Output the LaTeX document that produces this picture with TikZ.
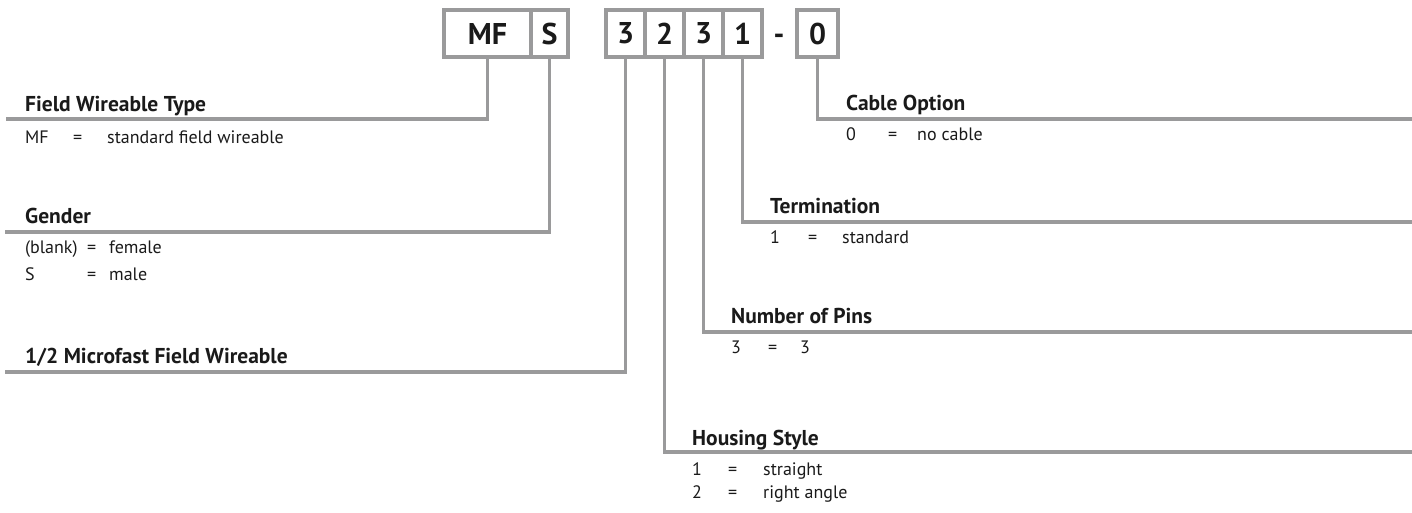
\documentclass[tikz,border=0pt]{standalone}
\usepackage{fontspec}
\setmainfont{PT Sans}
\usepackage{xcolor}
\usetikzlibrary{positioning}
\definecolor{leadgray}{HTML}{9A9A9B}
\definecolor{inkblack}{HTML}{1A1A1A}

\begin{document}
\begin{tikzpicture}[x=1pt,y=-1pt,line join=miter,
  codebox/.style={draw=leadgray,line width=3.4pt,minimum height=47pt,inner sep=0pt,
    text=inkblack,font=\fontsize{30}{32}\selectfont\bfseries},
  leader/.style={draw=leadgray,line width=3.3pt},
  head/.style={anchor=base west,inner sep=0pt,text=inkblack,font=\fontsize{21.5}{24}\selectfont\bfseries},
  opt/.style={anchor=base west,inner sep=0pt,text=inkblack,font=\fontsize{18}{20}\selectfont}]
\useasboundingbox (0,0) rectangle (1412,512);
% part number boxes
\node[codebox,minimum width=87pt] (mf) at (487.5,33.5) {MF};
\node[codebox,minimum width=37pt] (sx) at (549.5,33.5) {S};
\foreach \i/\d in {1/3,2/2,3/3,4/1}
  \node[codebox,minimum width=39pt] (d\i) at ({586.5+39*\i},33.5) {\d};
\node[inner sep=0pt,text=inkblack,font=\fontsize{30}{32}\selectfont\bfseries] (dash) at (779,39) {-};
\node[codebox,minimum width=41pt] (zero) at (817.5,33.5) {0};
% line ends
\coordinate (fwend) at (6,119);
\coordinate (gend) at (5,232);
\coordinate (mcend) at (5,372);
\coordinate (coend) at (1412,119);
\coordinate (tend) at (1412,222);
\coordinate (npend) at (1412,332);
\coordinate (hsend) at (1412,452);
% leaders
\foreach \a/\b in {mf/fwend,sx/gend,d1/mcend,d2/hsend,d3/npend,d4/tend,zero/coend}
  \draw[leader] (\a.south) |- (\b);
% headings
\foreach \n/\x/\y/\t in {fw/25/111/{Field Wireable Type},gd/25/223/Gender,
  mc/25/363/{1/2 Microfast Field Wireable},co/846/110/{Cable Option},
  tm/770/213/Termination,np/731/323/{Number of Pins},hs/692/445/{Housing Style}}
  \node[head] (\n) at (\x,\y) {\t};
% options
\foreach \n/\xa/\xb/\xc/\y/\k/\v in {fwa/25/73/107/143/MF/{standard field wireable},
  gda/25/87/109/253/{(blank)}/female,gdb/25/87/109/280/S/male,
  coa/846/888/917/140/0/{no cable},tma/770/808/842/243/1/standard,
  npa/731/768/800/353/3/3,hsa/692/728/763/475/1/straight,hsb/692/728/763/498/2/{right angle}}
{
  \node[opt] (\n k) at (\xa,\y) {\k};
  \node[opt] (\n e) at (\xb,\y) {=};
  \node[opt] (\n v) at (\xc,\y) {\v};
}
\end{tikzpicture}
\end{document}
